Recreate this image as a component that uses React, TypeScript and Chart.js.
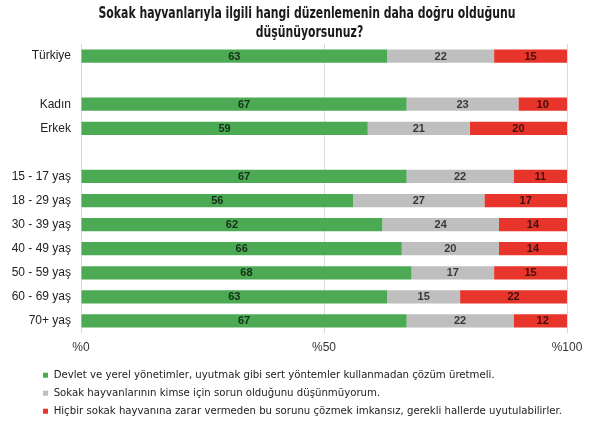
import React, { useEffect, useRef } from "react";
import { Chart, registerables } from "chart.js";

Chart.register(...registerables);

const titleLines = [
  "Sokak hayvanlarıyla ilgili hangi düzenlemenin daha doğru olduğunu",
  "düşünüyorsunuz?",
];

const categories = [
  "Türkiye",
  "",
  "Kadın",
  "Erkek",
  "",
  "15 - 17 yaş",
  "18 - 29 yaş",
  "30 - 39 yaş",
  "40 - 49 yaş",
  "50 - 59 yaş",
  "60 - 69 yaş",
  "70+ yaş",
];

const seriesNames = [
  "Devlet ve yerel yönetimler, uyutmak gibi sert yöntemler kullanmadan çözüm üretmeli.",
  "Sokak hayvanlarının kimse için sorun olduğunu düşünmüyorum.",
  "Hiçbir sokak hayvanına zarar vermeden bu sorunu çözmek imkansız, gerekli hallerde uyutulabilirler.",
];

const greenValues = [63, null, 67, 59, null, 67, 56, 62, 66, 68, 63, 67];
const greyValues = [22, null, 23, 21, null, 22, 27, 24, 20, 17, 15, 22];
const redValues = [15, null, 10, 20, null, 11, 17, 14, 14, 15, 22, 12];

const xTickValues = [0, 50, 100];

const NARROW = "'Liberation Sans Narrow', 'DejaVu Sans Condensed', 'Roboto Condensed', 'Liberation Sans', sans-serif";
const SANS = "'Liberation Sans', Arial, sans-serif";

const titlePlugin = {
  id: "customTitle",
  afterDraw(chart: any) {
    const ctx = chart.ctx;
    ctx.save();
    ctx.font = `bold 15px ${NARROW}`;
    ctx.fillStyle = "#1a1a1a";
    ctx.textAlign = "center";
    ctx.textBaseline = "middle";
    const w = ctx.measureText(titleLines[0]).width;
    const sx = Math.min(1, 417 / w);
    ctx.translate(307, 0);
    ctx.scale(sx, 1);
    ctx.fillText(titleLines[0], 0, 14);
    ctx.fillText(titleLines[1], 3, 33);
    ctx.restore();
  },
};

const legendShiftPlugin = {
  id: "legendShift",
  afterLayout(chart: any) {
    const lg = chart.legend;
    if (lg) {
      const dx = 36.3 - lg.left;
      lg.left += dx;
      lg.right += dx;
      lg.top += 2;
      lg.bottom += 2;
    }
  },
};

const valueLabelPlugin = {
  id: "valueLabels",
  afterDatasetsDraw(chart: any) {
    const ctx = chart.ctx;
    ctx.save();
    ctx.font = `bold 11px ${SANS}`;
    ctx.fillStyle = "rgba(0,0,0,0.72)";
    ctx.textAlign = "center";
    ctx.textBaseline = "middle";
    chart.data.datasets.forEach((ds: any, di: number) => {
      const meta = chart.getDatasetMeta(di);
      meta.data.forEach((el: any, i: number) => {
        const v = ds.data[i];
        if (v === null || v === undefined) return;
        const p = el.getCenterPoint();
        ctx.fillText(String(v), p.x, p.y + 0.5);
      });
    });
    ctx.restore();
  },
};

export default function App() {
  const canvasRef = useRef<HTMLCanvasElement | null>(null);

  useEffect(() => {
    if (!canvasRef.current) return;
    const chart = new Chart(canvasRef.current, {
      type: "bar",
      data: {
        labels: categories,
        datasets: [
          {
            label: seriesNames[0],
            data: greenValues,
            backgroundColor: "#4caa54",
            borderWidth: 0,
          },
          {
            label: seriesNames[1],
            data: greyValues,
            backgroundColor: "#bfbfbf",
            borderWidth: 0,
          },
          {
            label: seriesNames[2],
            data: redValues,
            backgroundColor: "#e8352b",
            borderWidth: 0,
          },
        ],
      },
      options: {
        indexAxis: "y",
        animation: false,
        responsive: true,
        maintainAspectRatio: false,
        datasets: {
          bar: {
            barPercentage: 0.55,
            categoryPercentage: 1,
          },
        },
        layout: {
          padding: { top: 44, left: 8, right: 33, bottom: 0 },
        },
        scales: {
          x: {
            stacked: true,
            min: 0,
            max: 100,
            afterBuildTicks(scale: any) {
              scale.ticks = xTickValues.map((v) => ({ value: v }));
            },
            afterFit(scale: any) {
              scale.height = 28;
            },
            grid: {
              color: "#d9d9d9",
              lineWidth: 1,
              drawTicks: false,
            },
            border: { display: false },
            ticks: {
              padding: 7,
              color: "#333",
              font: { family: SANS, size: 12 },
              callback: (v: any) => "%" + v,
            },
          },
          y: {
            stacked: true,
            afterFit(scale: any) {
              scale.width = 73;
            },
            grid: { display: false, drawTicks: false },
            border: { display: false },
            ticks: {
              autoSkip: false,
              padding: 10,
              color: "#222",
              font: { family: SANS, size: 12 },
            },
          },
        },
        plugins: {
          title: { display: false },
          tooltip: { enabled: false },
          legend: {
            display: true,
            position: "bottom",
            align: "start",
            labels: {
              boxWidth: 5,
              boxHeight: 5,
              padding: 6.7,
              color: "#222",
              font: { family: NARROW, size: 11.3 },
            },
          },
        },
      },
      plugins: [legendShiftPlugin, titlePlugin, valueLabelPlugin],
    } as any);
    return () => chart.destroy();
  }, []);

  return (
    <div style={{ position: "absolute", left: 0, top: 0, width: 600, height: 425, background: "#fff" }}>
      <canvas ref={canvasRef} />
    </div>
  );
}
